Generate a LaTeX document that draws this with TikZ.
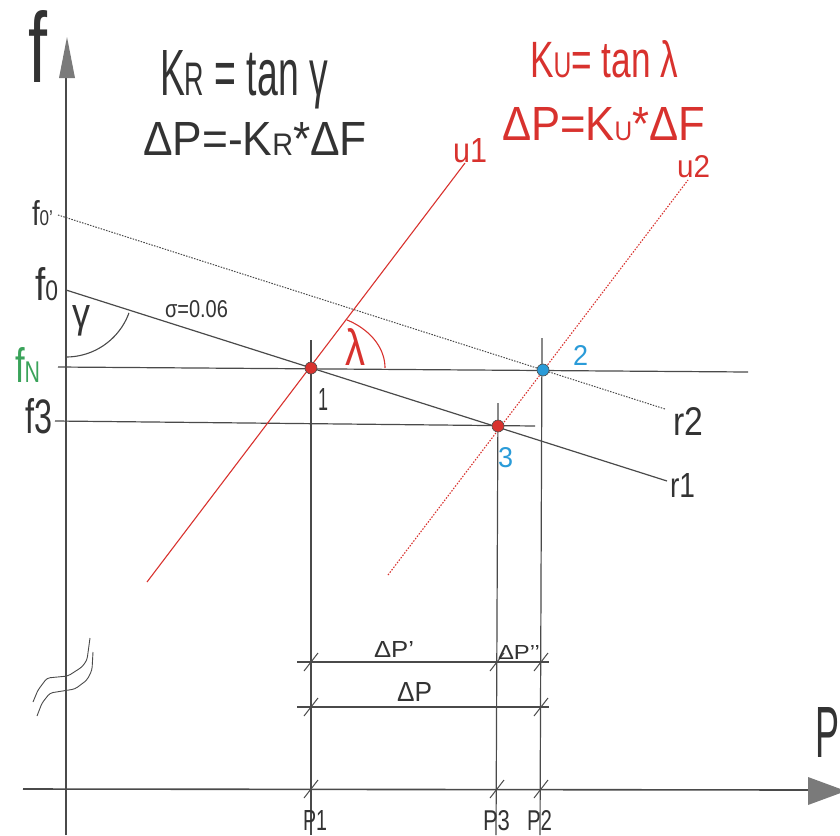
\documentclass[tikz,border=0pt]{standalone}
\usepackage{fontspec}
\setmainfont{Liberation Sans}
\usepackage{graphicx}
\definecolor{lgrey}{HTML}{4A4A4A}
\definecolor{agrey}{HTML}{7A7A7A}
\definecolor{dred}{HTML}{D8322E}
\definecolor{dblue}{HTML}{2A9BD8}
\definecolor{dgreen}{HTML}{3AA35A}
\definecolor{tgrey}{HTML}{333333}
\newcommand{\fb}[3]{\resizebox{#1pt}{#2pt}{#3}}
\newcommand{\sm}[2][0.62]{\scalebox{#1}{#2}}
\begin{document}
\begin{tikzpicture}[x=1pt,y=-1pt,
 axisline/.style={draw=lgrey,line width=1.6pt},
 thinline/.style={draw=lgrey,line width=1.2pt},
 dotline/.style={draw=lgrey,line width=1pt,dash pattern=on 1.5pt off 1.3pt},
 redline/.style={draw=dred,line width=1.1pt},
 reddotline/.style={draw=dred,line width=1.1pt,dash pattern=on 1.5pt off 1.5pt},
 lbl/.style={anchor=base west,inner sep=0pt,outer sep=0pt,text=tgrey},
 ptdot/.style={circle,draw=black!70,line width=0.6pt,minimum size=12pt,inner sep=0pt},
 slashmark/.style={draw=lgrey,line width=1pt},
 squig/.style={draw=lgrey,line width=0.9pt,rounded corners=3pt}]
\useasboundingbox (0,0) rectangle (840,835);
% axes
\coordinate (ybot) at (66,835);
\coordinate (ytop) at (66,75);
\coordinate (xleft) at (23,789);
\coordinate (xright) at (808,790);
\draw[axisline] (ybot) -- (ytop);
\fill[agrey] (67,37) -- (59,78) -- (75,78) -- cycle;
\draw[axisline] (xleft) -- (xright);
\fill[agrey] (808,777) -- (808,805) -- (846,791) -- cycle;
% axis break
\draw[squig] (33,702) -- (38,690) -- (47,678) -- (68,676) -- (82,667) -- (87,660) -- (90,638);
\draw[squig] (37,716) -- (42,703) -- (50,693) -- (75,689) -- (87,680) -- (92,670) -- (93,652);
% key points
\coordinate (f0) at (66,290);
\coordinate (f0p) at (58,215);
\coordinate (r1end) at (667,481);
\coordinate (r2end) at (665,409);
\coordinate (u1a) at (147,582);
\coordinate (u1b) at (465,163);
\coordinate (u2a) at (388,575);
\coordinate (u2b) at (688,180);
% horizontal lines
\draw[thinline] (58,367) -- (748,372);
\draw[thinline] (55,421) -- (535,426);
% characteristic lines
\draw[thinline] (f0) -- (r1end);
\draw[dotline] (f0p) -- (r2end);
\draw[redline] (u1a) -- (u1b);
\draw[reddotline] (u2a) -- (u2b);
% verticals
\draw[thinline] (311,340) -- (311,835);
\draw[thinline] (498,403) -- (496,835);
\draw[thinline] (542,338) -- (540,835);
% dimension lines
\draw[thinline] (297,662) -- (549,662);
\draw[thinline] (297,707) -- (549,707);
\foreach \px/\py in {311/662,497/662,541/662,311/707,541/707,311/789,497/789,541/789}
  \draw[slashmark] ({\px-7},{\py+9}) -- ({\px+7},{\py-9});
% angle arcs
\draw[lgrey,line width=1.1pt] plot[domain=90:20,samples=40,smooth] ({66+67*cos(\x)},{290+67*sin(\x)});
\draw[dred,line width=1.1pt] plot[domain=-61:0,samples=40,smooth] ({311+74*cos(\x)},{368+55*sin(\x)});
% intersection points
\node[ptdot,fill=dred] (p1) at (311,368) {};
\node[ptdot,fill=dblue] (p2) at (543,370) {};
\node[ptdot,fill=dred] (p3) at (498,426) {};
% formulas
\node[lbl] (fa) at (160,95) {\fb{168}{45}{K\sm[0.72]{R} = tan γ}};
\node[lbl] (fb) at (143,155) {\fb{224}{33}{ΔP=-K\sm[0.65]{R}*ΔF}};
\node[lbl,text=dred] (fc) at (530,77) {\fb{148}{37}{K\sm[0.7]{U}= tan λ}};
\node[lbl,text=dred] (fd) at (502,140) {\fb{203}{33}{ΔP=K\sm[0.56]{U}*ΔF}};
% axis labels
\node[lbl] (lf) at (28,82) {\fb{19}{72}{f}};
\node[lbl] (lp) at (815,757) {\fb{24}{50}{P}};
\node[lbl] (lf0p) at (32,225) {\fb{21}{25}{f\sm{0’}}};
\node[lbl] (lf0) at (35,300) {\fb{23}{33}{f\sm{0}}};
\node[lbl,text=dgreen] (lfn) at (15,382) {\fb{25}{35}{f\sm{N}}};
\node[lbl] (lf3) at (25,433) {\fb{27}{35}{f3}};
\node[lbl] (lgam) at (72,327) {\fb{18}{22}{γ}};
\node[lbl] (lsig) at (165,317) {\fb{63}{17}{σ=0.06}};
\node[lbl,text=dred] (llam) at (345,365) {\fb{20}{37}{λ}};
\node[lbl] (l1) at (318,410) {\fb{10}{22}{1}};
\node[lbl,text=dblue] (l2) at (573,365) {\fb{15}{20}{2}};
\node[lbl,text=dblue] (l3) at (498,467) {\fb{15}{20}{3}};
\node[lbl] (lr2) at (673,435) {\fb{30}{28}{r2}};
\node[lbl] (lr1) at (670,497) {\fb{25}{24}{r1}};
\node[lbl,text=dred] (lu1) at (453,162) {\fb{34}{24}{u1}};
\node[lbl,text=dred] (lu2) at (677,177) {\fb{33}{22}{u2}};
\node[lbl] (ldp1) at (374,657) {\fb{40}{16}{ΔP’}};
\node[lbl] (ldp2) at (498,659) {\fb{42}{14}{ΔP’’}};
\node[lbl] (ldp) at (397,701) {\fb{35}{19}{ΔP}};
\node[lbl] (lP1) at (303,830) {\fb{24}{20}{P1}};
\node[lbl] (lP3) at (483,830) {\fb{27}{20}{P3}};
\node[lbl] (lP2) at (527,830) {\fb{25}{20}{P2}};
\end{tikzpicture}
\end{document}
